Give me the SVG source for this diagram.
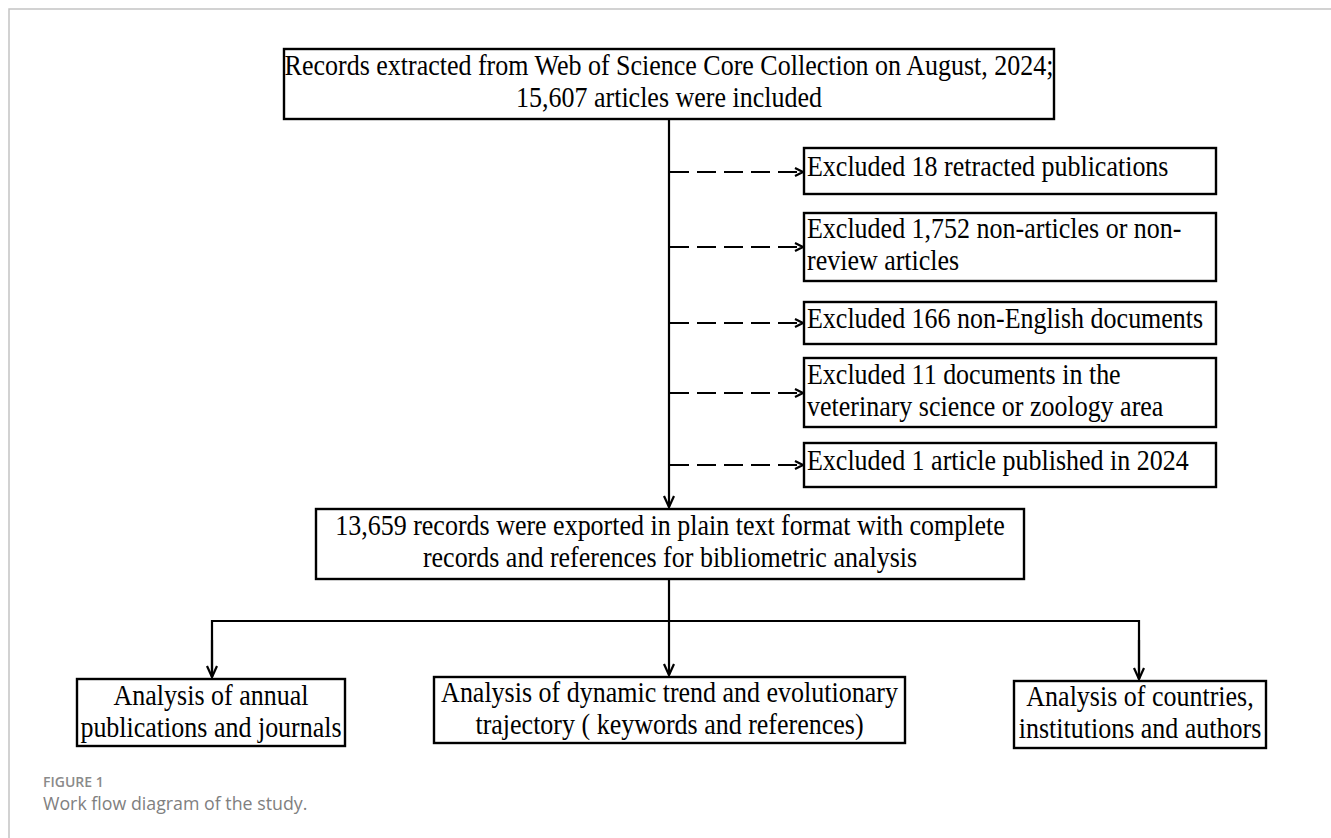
<svg xmlns="http://www.w3.org/2000/svg" width="1331" height="838" viewBox="0 0 1331 838">
<style>
.box{fill:#fff;stroke:#000;stroke-width:2.4}
.t{font-family:"Liberation Serif","Times New Roman",serif;font-size:26px;fill:#000}
.c{text-anchor:middle}
.ln{fill:none;stroke:#000;stroke-width:2.2}
.dash{fill:none;stroke:#000;stroke-width:2.2;stroke-dasharray:19 8}
.frame{fill:none;stroke:#c4c4c4;stroke-width:1.5}
.cap{font-family:"Open Sans","Noto Sans",sans-serif}
</style>
<defs>
<marker id="ah" markerUnits="userSpaceOnUse" markerWidth="16" markerHeight="14" viewBox="0 0 16 14" refX="13" refY="7" orient="auto">
<path d="M2,2 L13,7 L2,12" fill="none" stroke="#000" stroke-width="2.2"/>
</marker>
<marker id="ahs" markerUnits="userSpaceOnUse" markerWidth="12" markerHeight="12" viewBox="0 0 12 12" refX="10" refY="6" orient="auto">
<path d="M2,2 L10,6 L2,10" fill="none" stroke="#000" stroke-width="2.2"/>
</marker>
</defs>
<rect width="1331" height="838" fill="#fff"/>
<path class="frame" d="M9,838 V9 H1331"/>

<g id="connectors">
<line class="ln" x1="669" y1="119" x2="669" y2="507" marker-end="url(#ah)"/>
<line class="dash" x1="670" y1="172" x2="803" y2="172" marker-end="url(#ahs)"/>
<line class="dash" x1="670" y1="247" x2="803" y2="247" marker-end="url(#ahs)"/>
<line class="dash" x1="670" y1="323" x2="803" y2="323" marker-end="url(#ahs)"/>
<line class="dash" x1="670" y1="393" x2="803" y2="393" marker-end="url(#ahs)"/>
<line class="dash" x1="670" y1="465" x2="803" y2="465" marker-end="url(#ahs)"/>
<line class="ln" x1="669" y1="579" x2="669" y2="675" marker-end="url(#ah)"/>
<path class="ln" d="M212,677 V621 H1139 V679" fill="none"/>
<line class="ln" x1="212" y1="640" x2="212" y2="677" marker-end="url(#ah)"/>
<line class="ln" x1="1139" y1="640" x2="1139" y2="679" marker-end="url(#ah)"/>
</g>

<g id="n-records">
<rect class="box" x="284" y="49" width="770" height="70"/>
<text class="t c" transform="translate(669,75) scale(1,1.15)">Records extracted from Web of Science Core Collection on August, 2024;</text>
<text class="t c" transform="translate(669,107) scale(1,1.15)">15,607 articles were included</text>
</g>

<g id="n-ex1">
<rect class="box" x="804" y="148" width="412" height="46"/>
<text class="t" transform="translate(807,176) scale(1,1.15)">Excluded 18 retracted publications</text>
</g>
<g id="n-ex2">
<rect class="box" x="804" y="213" width="412" height="68"/>
<text class="t" transform="translate(807,238) scale(1,1.15)">Excluded 1,752 non-articles or non-</text>
<text class="t" transform="translate(807,270) scale(1,1.15)">review articles</text>
</g>
<g id="n-ex3">
<rect class="box" x="804" y="302" width="412" height="42"/>
<text class="t" transform="translate(807,328) scale(1,1.15)">Excluded 166 non-English documents</text>
</g>
<g id="n-ex4">
<rect class="box" x="804" y="358" width="412" height="69"/>
<text class="t" transform="translate(807,384) scale(1,1.15)">Excluded 11 documents in the</text>
<text class="t" transform="translate(807,416) scale(1,1.15)">veterinary science or zoology area</text>
</g>
<g id="n-ex5">
<rect class="box" x="804" y="443" width="412" height="44"/>
<text class="t" transform="translate(807,470) scale(1,1.15)">Excluded 1 article published in 2024</text>
</g>

<g id="n-exported">
<rect class="box" x="316" y="509" width="708" height="70"/>
<text class="t c" transform="translate(670,535) scale(1,1.15)">13,659 records were exported in plain text format with complete</text>
<text class="t c" transform="translate(670,567) scale(1,1.15)">records and references for bibliometric analysis</text>
</g>

<g id="n-annual">
<rect class="box" x="77" y="679" width="268" height="67"/>
<text class="t c" transform="translate(211,705) scale(1,1.15)">Analysis of annual</text>
<text class="t c" transform="translate(211,737) scale(1,1.15)">publications and journals</text>
</g>
<g id="n-trend">
<rect class="box" x="434" y="677" width="471" height="66"/>
<text class="t c" transform="translate(669.5,702) scale(1,1.15)">Analysis of dynamic trend and evolutionary</text>
<text class="t c" transform="translate(669.5,734) scale(1,1.15)">trajectory ( keywords and references)</text>
</g>
<g id="n-countries">
<rect class="box" x="1014" y="681" width="252" height="67"/>
<text class="t c" transform="translate(1140,706) scale(1,1.15)">Analysis of countries,</text>
<text class="t c" transform="translate(1140,738) scale(1,1.15)">institutions and authors</text>
</g>

<g id="caption">
<text class="cap" x="43" y="787" style="font-size:14px;font-weight:600;fill:#8a8a8a">FIGURE 1</text>
<text class="cap" x="43" y="810" style="font-size:17.8px;fill:#808080">Work flow diagram of the study.</text>
</g>
</svg>
